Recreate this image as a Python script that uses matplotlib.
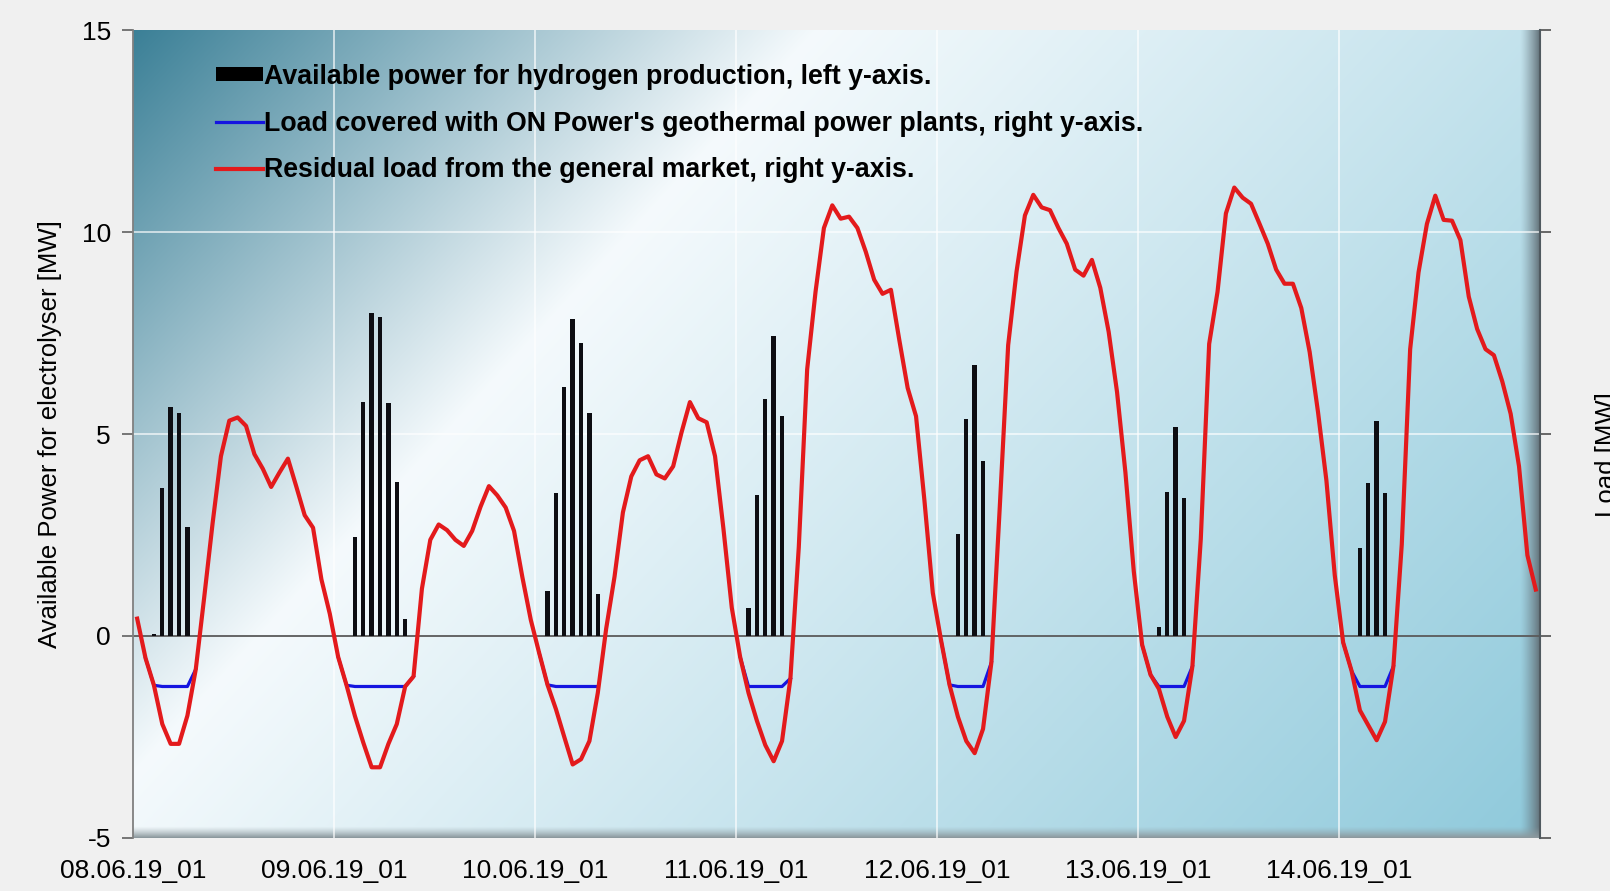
import numpy as np
import matplotlib
matplotlib.use("Agg")
import matplotlib.pyplot as plt
from matplotlib.patches import Patch
from matplotlib.lines import Line2D

# hourly data, 08.06.19 01:00 .. 14.06.19 24:00 (168 hours)
day_labels = ["08.06.19_01", "09.06.19_01", "10.06.19_01", "11.06.19_01",
              "12.06.19_01", "13.06.19_01", "14.06.19_01"]

# residual load from the general market [MW], one list per day
red_d0 = [0.43, -0.55, -1.22, -2.18, -2.67, -2.67, -1.97, -0.82, 0.95, 2.78, 4.45, 5.33,
          5.41, 5.2, 4.5, 4.14, 3.69, 4.05, 4.39, 3.7, 2.99, 2.68, 1.4, 0.55]
red_d1 = [-0.52, -1.22, -1.98, -2.64, -3.25, -3.25, -2.67, -2.18, -1.25, -1.0, 1.17, 2.38,
          2.76, 2.62, 2.38, 2.23, 2.6, 3.2, 3.71, 3.48, 3.18, 2.6, 1.45, 0.4]
red_d2 = [-0.42, -1.21, -1.81, -2.5, -3.18, -3.05, -2.6, -1.41, 0.18, 1.47, 3.06, 3.95,
          4.35, 4.45, 4.0, 3.9, 4.2, 5.04, 5.79, 5.39, 5.29, 4.45, 2.66, 0.7]
red_d3 = [-0.52, -1.41, -2.1, -2.7, -3.1, -2.6, -1.05, 2.2, 6.6, 8.52, 10.1, 10.66,
          10.33, 10.38, 10.1, 9.51, 8.82, 8.47, 8.57, 7.33, 6.14, 5.44, 3.36, 1.07]
red_d4 = [-0.12, -1.21, -2.0, -2.6, -2.9, -2.3, -0.65, 3.2, 7.2, 9.02, 10.41, 10.92,
          10.61, 10.54, 10.1, 9.71, 9.07, 8.92, 9.31, 8.62, 7.53, 6.04, 4.05, 1.6]
red_d5 = [-0.22, -0.96, -1.31, -2.0, -2.5, -2.1, -0.75, 2.4, 7.23, 8.52, 10.46, 11.1,
          10.85, 10.7, 10.21, 9.71, 9.07, 8.72, 8.72, 8.12, 7.03, 5.54, 3.85, 1.5]
red_d6 = [-0.16, -0.86, -1.84, -2.21, -2.58, -2.12, -0.75, 2.27, 7.1, 9.0, 10.2, 10.9,
          10.3, 10.28, 9.8, 8.4, 7.6, 7.1, 6.95, 6.3, 5.5, 4.2, 2.0, 1.15]

# available power for hydrogen production [MW]: first hour of each block + values
bar_start = [2, 26, 49, 73, 98, 122, 146]
bar_vals = [[0.06, 3.67, 5.66, 5.51, 2.70],
            [2.46, 5.79, 7.99, 7.90, 5.76, 3.82, 0.43],
            [1.12, 3.54, 6.17, 7.85, 7.26, 5.51, 1.05],
            [0.70, 3.50, 5.86, 7.43, 5.44],
            [2.53, 5.36, 6.70, 4.33],
            [0.23, 3.57, 5.17, 3.41],
            [2.17, 3.79, 5.32, 3.53]]

# load covered with geothermal plants [MW]
geo_start = [1, 24, 48, 72, 96, 120, 144]
geo_vals = [[-0.55, -1.22, -1.25, -1.25, -1.25, -1.25, -0.82],
            [-0.52, -1.22, -1.25, -1.25, -1.25, -1.25, -1.25, -1.25, -1.25, -1.0],
            [-0.42, -1.21, -1.25, -1.25, -1.25, -1.25, -1.25, -1.25],
            [-0.52, -1.25, -1.25, -1.25, -1.25, -1.25, -1.05],
            [-0.12, -1.21, -1.25, -1.25, -1.25, -1.25, -0.65],
            [-0.22, -0.96, -1.25, -1.25, -1.25, -1.25, -0.75],
            [-0.16, -0.86, -1.25, -1.25, -1.25, -1.25, -0.75]]

residual = np.array(red_d0 + red_d1 + red_d2 + red_d3 + red_d4 + red_d5 + red_d6)
n_hours = len(residual)
hours = np.arange(n_hours) + 0.5

available = np.zeros(n_hours)
for s, vals in zip(bar_start, bar_vals):
    available[s:s + len(vals)] = vals

geo = np.full(n_hours, np.nan)
for s, vals in zip(geo_start, geo_vals):
    geo[s:s + len(vals)] = vals

plt.rcParams["font.family"] = ["Liberation Sans", "DejaVu Sans"]
plt.rcParams["axes.unicode_minus"] = False

fig = plt.figure(figsize=(16.1, 8.91), dpi=100, facecolor="#f0f0f0")
ax = fig.add_axes([0.0826, 0.0595, 0.8739, 0.9068])

# gradient plot area (teal top-left -> white -> light blue bottom-right)
W, H = 1407, 808
U, V = np.meshgrid(np.linspace(0, 1, W), np.linspace(0, 1, H))
s = 0.72 * U + 0.38 * V
pos = [0.0, 0.35, 1.1]
c0 = (0.23, 0.50, 0.59)
c1 = (0.96, 0.98, 0.99)
c2 = (0.56, 0.79, 0.86)
bg = np.dstack([np.interp(s, pos, [c0[k], c1[k], c2[k]]) for k in range(3)])
# bevel shadow on right and bottom edges
gray = np.array([0.40, 0.46, 0.49])
r = np.clip((U - 0.986) / 0.014, 0, 1)[..., None] ** 1.3
bg = bg * (1 - r) + gray * r
b = np.clip((V - 0.986) / 0.014, 0, 1)[..., None] ** 1.3
bg = bg * (1 - b) + np.array([0.55, 0.6, 0.62]) * b
ax.imshow(bg, extent=[0, n_hours, -5, 15], aspect="auto", zorder=0,
          interpolation="bilinear")

ax.set_xlim(0, n_hours)
ax.set_ylim(-5, 15)

for d in range(1, 7):
    ax.axvline(24 * d, color="white", lw=1.2, alpha=0.75, zorder=1)
for y in (5, 10):
    ax.axhline(y, color="white", lw=1.2, alpha=0.75, zorder=1)
ax.axhline(0, color="#5a5a5a", lw=1.3, zorder=2)

ax.bar(hours, available, width=0.52, color="#0d0d12", zorder=3)

ax2 = ax.twinx()
ax2.set_ylim(-5, 15)
ax2.plot(hours, geo, color="#1515e0", lw=2.3, zorder=3)
ax2.plot(hours, residual, color="#e31a1c", lw=3.0, zorder=4)

ax.set_yticks([-5, 0, 5, 10, 15])
ax.tick_params(axis="y", direction="out", length=8, width=1.2, color="#606060",
               labelsize=19, pad=8)
ax.set_xticks(np.arange(0, n_hours, 24))
ax.set_xticklabels(day_labels)
ax.tick_params(axis="x", length=0, labelsize=19, pad=15)

ax2.set_yticks([-5, 0, 5, 10, 15])
ax2.tick_params(axis="y", direction="out", length=8, width=1.2, color="#505050",
                labelright=False)

for sp in ("top", "bottom"):
    ax.spines[sp].set_visible(False)
    ax2.spines[sp].set_visible(False)
ax.spines["left"].set_color("#808080")
ax.spines["left"].set_linewidth(1.3)
ax.spines["right"].set_visible(False)
ax2.spines["left"].set_visible(False)
ax2.spines["right"].set_color("#505a60")
ax2.spines["right"].set_linewidth(1.5)

ax.set_ylabel("Available Power for electrolyser [MW]", fontsize=18.5)
ax.yaxis.set_label_coords(-0.0505, 0.5)
ax2.set_ylabel("Load [MW]", fontsize=18.5)
ax2.yaxis.set_label_coords(1.039, 0.475)

handles = [Patch(facecolor="black"),
           Line2D([], [], color="#1515e0", lw=2.3),
           Line2D([], [], color="#e31a1c", lw=3.0)]
labels = ["Available power for hydrogen production, left y-axis.",
          "Load covered with ON Power's geothermal power plants, right y-axis.",
          "Residual load from the general market, right y-axis."]
ax2.legend(handles, labels, loc="upper left", bbox_to_anchor=(0.059, 0.958),
           frameon=False, prop={"weight": "bold", "size": 19.3},
           handlelength=1.75, handleheight=0.43, handletextpad=0.05,
           labelspacing=0.77, borderaxespad=0, borderpad=0)

fig.savefig("out.png", dpi=100, facecolor=fig.get_facecolor())
